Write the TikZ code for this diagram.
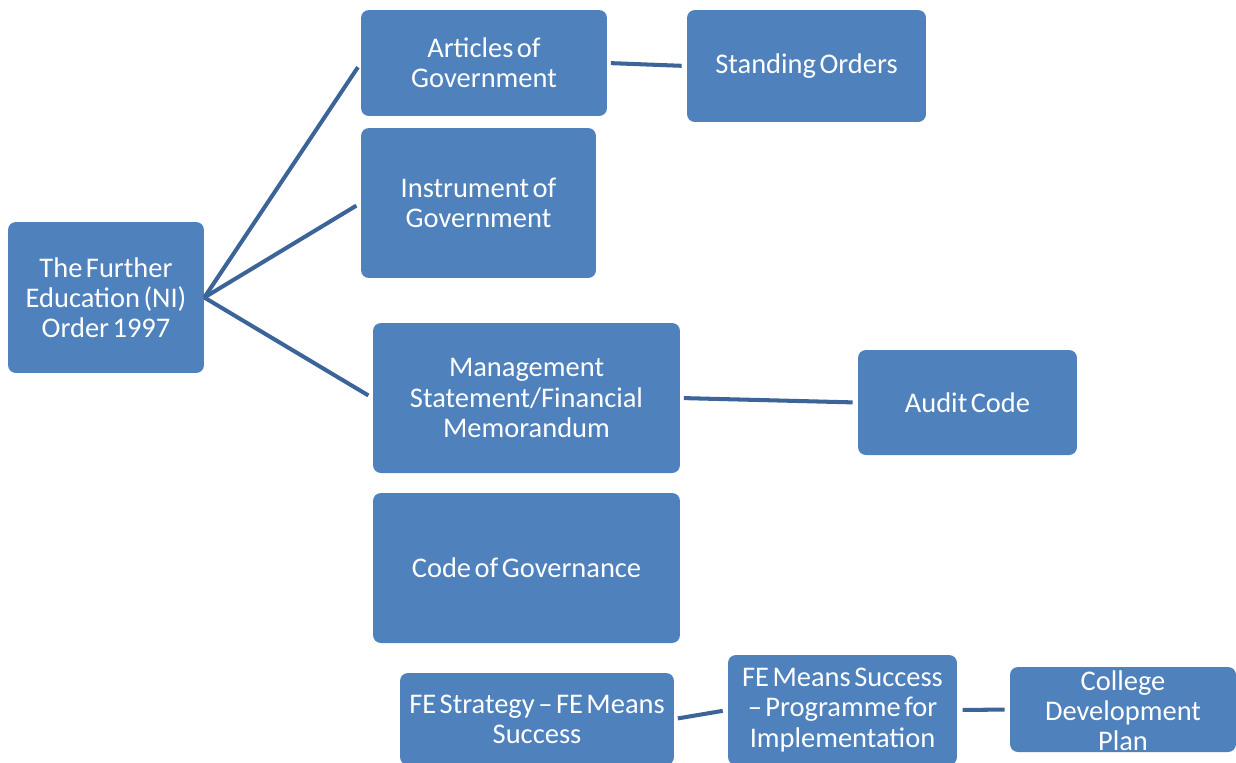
\documentclass[tikz,border=0pt]{standalone}
\usepackage{fontspec}
\setmainfont{Carlito}[WordSpace=0.55]
\usetikzlibrary{shapes}
\definecolor{boxblue}{RGB}{79,129,189}
\definecolor{linkblue}{RGB}{60,100,152}

\begin{document}
\begin{tikzpicture}[x = 0.02cm, y = -0.02cm]
	\tikzstyle{boxStyle} = [rectangle, rounded corners = 4.5pt, fill = boxblue, text = white, align = center, inner sep = 0pt, font = \fontsize{16.2}{17.2}\selectfont]
	\tikzstyle{linkStyle} = [draw = linkblue, line width = 2.3pt, shorten > = 0.1cm]
	\clip (0,0) rectangle (1236,762);
	\useasboundingbox (0,0) rectangle (1236,762);
	\node[boxStyle, minimum width = 3.92cm, minimum height = 3.02cm] (order) at (106,297.5) {The Further\\Education (NI)\\Order 1997};
	\node[boxStyle, minimum width = 4.92cm, minimum height = 2.12cm] (articles) at (484,63) {Articles of\\Government};
	\node[boxStyle, minimum width = 4.78cm, minimum height = 2.24cm] (standing) at (806.5,66) {Standing Orders};
	\node[boxStyle, minimum width = 4.70cm, minimum height = 3.00cm] (instrument) at (478.5,203) {Instrument of\\Government};
	\node[boxStyle, minimum width = 6.14cm, minimum height = 3.00cm] (memo) at (526.5,398) {Management\\Statement/Financial\\Memorandum};
	\node[boxStyle, minimum width = 4.38cm, minimum height = 2.10cm] (audit) at (967.5,402.5) {Audit Code};
	\node[boxStyle, minimum width = 6.14cm, minimum height = 3.00cm] (governance) at (526.5,568) {Code of Governance};
	\node[boxStyle, minimum width = 5.48cm, minimum height = 1.84cm] (strategy) at (537,719) {FE Strategy -- FE Means\\Success};
	\node[boxStyle, minimum width = 4.58cm, minimum height = 2.20cm] (programme) at (842.5,710) {FE Means Success\\-- Programme for\\Implementation};
	\node[boxStyle, minimum width = 4.52cm, minimum height = 1.70cm] (plan) at (1123,709.5) {\smash{\raisebox{-7pt}{\begin{tabular}{@{}c@{}}College\\Development\\Plan\end{tabular}}}};
	\draw[linkStyle] (order.east) -- (articles.west);
	\draw[linkStyle] (order.east) -- (instrument.west);
	\draw[linkStyle] (order.east) -- (memo.west);
	\draw[linkStyle, shorten < = 2pt] (articles.east) -- (standing.west);
	\draw[linkStyle, shorten < = 2pt] (memo.east) -- (audit.west);
	\draw[linkStyle, shorten < = 2pt] (strategy.east) -- (programme.west);
	\draw[linkStyle, shorten < = 3pt] (programme.east) -- (plan.west);
\end{tikzpicture}
\end{document}
